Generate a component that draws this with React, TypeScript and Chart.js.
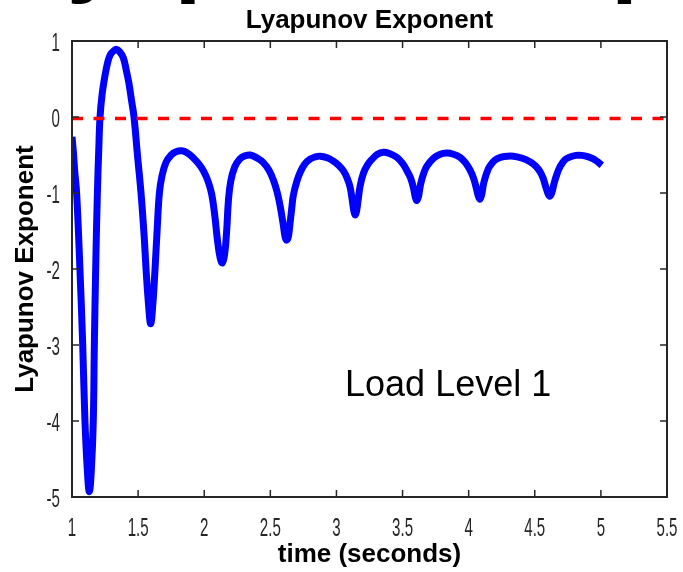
import React, { useEffect, useRef } from 'react';
import { Chart, registerables } from 'chart.js';

Chart.register(...registerables);

// ---- data ----
const TIME = [
  1.0, 1.01, 1.02, 1.035, 1.06, 1.081, 1.098, 1.115, 1.131, 1.147, 1.161, 1.169, 1.179, 1.192,
  1.203, 1.212, 1.228, 1.25, 1.27, 1.29, 1.315, 1.338, 1.36, 1.388, 1.41, 1.43, 1.45, 1.469,
  1.495, 1.522, 1.545, 1.56, 1.578, 1.595, 1.612, 1.628, 1.645, 1.661, 1.68, 1.71, 1.75, 1.79,
  1.83, 1.87, 1.918, 1.96, 1.994, 2.03, 2.057, 2.08, 2.1, 2.12, 2.137, 2.155, 2.17, 2.183,
  2.2, 2.23, 2.27, 2.31, 2.347, 2.4, 2.447, 2.49, 2.523, 2.55, 2.573, 2.598, 2.612, 2.624,
  2.637, 2.649, 2.662, 2.674, 2.7, 2.725, 2.76, 2.8, 2.84, 2.876, 2.93, 2.977, 3.02, 3.053,
  3.08, 3.103, 3.12, 3.132, 3.141, 3.152, 3.165, 3.18, 3.204, 3.235, 3.267, 3.31, 3.355, 3.4,
  3.456, 3.5, 3.531, 3.56, 3.582, 3.597, 3.607, 3.62, 3.637, 3.66, 3.683, 3.733, 3.78, 3.834,
  3.885, 3.935, 3.975, 4.011, 4.04, 4.061, 4.075, 4.086, 4.1, 4.115, 4.149, 4.18, 4.213, 4.27,
  4.338, 4.4, 4.464, 4.51, 4.54, 4.562, 4.585, 4.603, 4.616, 4.63, 4.648, 4.67, 4.692, 4.73,
  4.767, 4.81, 4.855, 4.9, 4.943, 4.975, 5.007,
];
const LYAP = [
  -0.26, -0.45, -0.7, -1.0, -2.0, -3.0, -4.0, -4.62, -4.93, -4.62, -4.0, -3.0, -2.0, -1.0,
  -0.4, 0.0, 0.3, 0.55, 0.72, 0.82, 0.87, 0.89, 0.86, 0.78, 0.62, 0.45, 0.22, 0.0,
  -0.5, -1.0, -1.55, -2.0, -2.45, -2.72, -2.45, -2.0, -1.45, -1.0, -0.78, -0.6, -0.5, -0.455,
  -0.445, -0.47, -0.54, -0.62, -0.71, -0.85, -1.02, -1.3, -1.62, -1.85, -1.92, -1.8, -1.49, -1.1,
  -0.85, -0.66, -0.55, -0.51, -0.5, -0.54, -0.6, -0.7, -0.83, -0.98, -1.16, -1.42, -1.58, -1.62,
  -1.57, -1.4, -1.2, -1.03, -0.85, -0.73, -0.62, -0.555, -0.525, -0.515, -0.535, -0.58, -0.64, -0.71,
  -0.8, -0.92, -1.1, -1.24, -1.29, -1.24, -1.08, -0.9, -0.74, -0.63, -0.56, -0.49, -0.465, -0.48,
  -0.53, -0.61, -0.7, -0.8, -0.93, -1.06, -1.1, -1.05, -0.88, -0.74, -0.65, -0.545, -0.495, -0.475,
  -0.49, -0.53, -0.6, -0.7, -0.82, -0.96, -1.05, -1.08, -1.01, -0.86, -0.68, -0.6, -0.55, -0.52,
  -0.515, -0.54, -0.59, -0.65, -0.72, -0.8, -0.93, -1.02, -1.04, -0.99, -0.86, -0.74, -0.65, -0.56,
  -0.525, -0.505, -0.505, -0.52, -0.55, -0.59, -0.635,
];
const THRESHOLD_TIME = [1, 5.5];
const THRESHOLD_VALUE = [-0.02, -0.02];

const X_TICKS = [1, 1.5, 2, 2.5, 3, 3.5, 4, 4.5, 5, 5.5];
const X_TICK_LABELS = ['1', '1.5', '2', '2.5', '3', '3.5', '4', '4.5', '5', '5.5'];
const Y_TICKS = [1, 0, -1, -2, -3, -4, -5];
const Y_TICK_LABELS = ['1', '0', '-1', '-2', '-3', '-4', '-5'];

const BANNER = 'Lyapunov Exponent';
const TITLE = 'Lyapunov Exponent';
const X_LABEL = 'time (seconds)';
const Y_LABEL = 'Lyapunov Exponent';
const ANNOTATION = 'Load Level 1';
const ANNOTATION_AT = [3.065, -3.668];

const AXIS_COLOR = '#262626';
const SANS = '"Liberation Sans", Arial, Helvetica, sans-serif';

const decorPlugin = {
  id: 'decor',
  afterDraw(chart: any) {
    const { ctx, chartArea: a } = chart;
    const xs = chart.scales.x;
    const ys = chart.scales.y;
    ctx.save();

    // cropped large banner text at the very top
    ctx.fillStyle = '#000';
    ctx.font = `bold 97px ${SANS}`;
    ctx.textAlign = 'left';
    ctx.textBaseline = 'alphabetic';
    ctx.fillText(BANNER, 11, -16);

    // box
    ctx.strokeStyle = AXIS_COLOR;
    ctx.lineWidth = 2;
    ctx.strokeRect(a.left, a.top, a.right - a.left, a.bottom - a.top);

    // inward tick marks
    ctx.lineWidth = 1.5;
    const seg = (x1: number, y1: number, x2: number, y2: number) => {
      ctx.beginPath();
      ctx.moveTo(x1, y1);
      ctx.lineTo(x2, y2);
      ctx.stroke();
    };
    X_TICKS.forEach((v) => {
      const px = xs.getPixelForValue(v);
      seg(px, a.bottom, px, a.bottom - 7);
      seg(px, a.top, px, a.top + 7);
    });
    Y_TICKS.forEach((v) => {
      const py = ys.getPixelForValue(v);
      seg(a.left, py, a.left + 7, py);
      seg(a.right, py, a.right - 7, py);
    });

    // condensed tick labels
    ctx.fillStyle = AXIS_COLOR;
    ctx.font = `26px ${SANS}`;
    X_TICKS.forEach((v, i) => {
      const px = xs.getPixelForValue(v);
      ctx.save();
      ctx.translate(px, a.bottom + 39);
      ctx.scale(0.58, 1);
      ctx.textAlign = 'center';
      ctx.fillText(X_TICK_LABELS[i], 0, 0);
      ctx.restore();
    });
    Y_TICKS.forEach((v, i) => {
      const py = ys.getPixelForValue(v);
      ctx.save();
      ctx.translate(a.left - 12, py + 9.5);
      ctx.scale(0.58, 1);
      ctx.textAlign = 'right';
      ctx.fillText(Y_TICK_LABELS[i], 0, 0);
      ctx.restore();
    });

    // titles
    ctx.fillStyle = '#000';
    ctx.font = `bold 26px ${SANS}`;
    ctx.textAlign = 'center';
    const cx = (a.left + a.right) / 2;
    ctx.fillText(TITLE, cx, 28);
    ctx.fillText(X_LABEL, cx, 562);
    ctx.save();
    ctx.translate(33, (a.top + a.bottom) / 2);
    ctx.rotate(-Math.PI / 2);
    ctx.fillText(Y_LABEL, 0, 0);
    ctx.restore();

    // annotation
    ctx.font = `36px ${SANS}`;
    ctx.textAlign = 'left';
    ctx.fillText(
      ANNOTATION,
      xs.getPixelForValue(ANNOTATION_AT[0]),
      ys.getPixelForValue(ANNOTATION_AT[1])
    );

    ctx.restore();
  },
};

export default function App() {
  const canvasRef = useRef<HTMLCanvasElement | null>(null);

  useEffect(() => {
    if (!canvasRef.current) return;
    const chart = new Chart(canvasRef.current, {
      type: 'line',
      data: {
        datasets: [
          {
            label: 'threshold',
            data: THRESHOLD_TIME.map((t, i) => ({ x: t, y: THRESHOLD_VALUE[i] })),
            borderColor: '#ff0000',
            borderWidth: 3.5,
            borderDash: [11, 10.5],
            pointRadius: 0,
            order: 0,
          },
          {
            label: 'Lyapunov',
            data: TIME.map((t, i) => ({ x: t, y: LYAP[i] })),
            borderColor: '#0000ff',
            borderWidth: 7,
            pointRadius: 0,
            tension: 0.4,
            borderJoinStyle: 'round',
            order: 1,
          },
        ],
      },
      options: {
        responsive: false,
        animation: false,
        events: [],
        layout: { padding: { left: 72, right: 16, top: 41, bottom: 75 } },
        plugins: {
          legend: { display: false },
          title: { display: false },
          tooltip: { enabled: false },
        },
        scales: {
          x: { type: 'linear', min: 1, max: 5.5, display: false },
          y: { type: 'linear', min: -5, max: 1, display: false },
        },
      },
      plugins: [decorPlugin],
    } as any);
    return () => chart.destroy();
  }, []);

  return (
    <div
      style={{
        position: 'fixed',
        left: 0,
        top: 0,
        width: 683,
        height: 572,
        background: '#ffffff',
      }}
    >
      <canvas ref={canvasRef} width={683} height={572} style={{ display: 'block' }} />
    </div>
  );
}
